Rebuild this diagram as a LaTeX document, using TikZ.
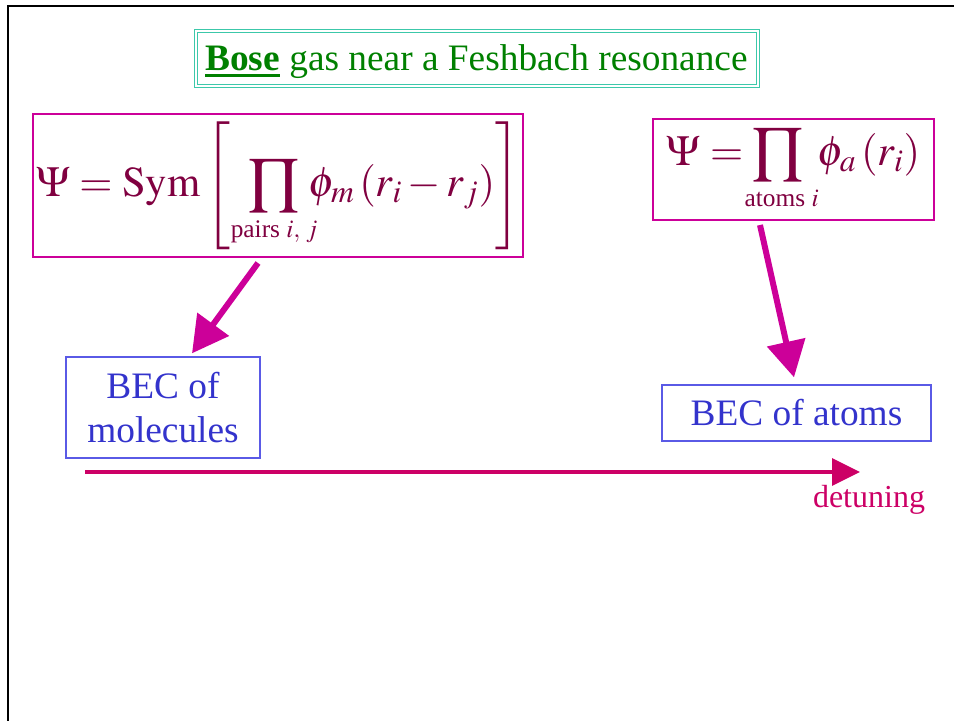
\documentclass[tikz,border=0pt]{standalone}
\usepackage{mathptmx}
\usepackage{mathtools}
\usepackage{fontspec}
\setmainfont{Liberation Serif}
\usetikzlibrary{arrows.meta,calc}

\definecolor{ttlgreen}{RGB}{0,128,0}
\definecolor{ttlteal}{RGB}{60,200,170}
\definecolor{pkline}{RGB}{204,0,153}
\definecolor{formred}{RGB}{128,0,64}
\definecolor{becline}{RGB}{90,90,230}
\definecolor{bectext}{RGB}{51,51,204}
\definecolor{detred}{RGB}{204,0,102}

\newcommand\boldul[1]{\setbox0=\hbox{#1}\rlap{\rule[-5pt]{\wd0}{2pt}}\box0\relax}
\newcommand\limtext[1]{\mbox{\fontsize{19}{21}\selectfont #1}}

\begin{document}
\begin{tikzpicture}[
  x=0.75pt, y=-0.75pt,
  rim/.style={line width=1.9pt, black},
  ttlbox/.style={draw=ttlteal, double=white, double distance=1.5pt, line width=0.75pt,
    text=ttlgreen, font=\fontsize{28}{32}\selectfont, inner sep=0pt,
    text height=19.5pt, text depth=1pt},
  formbox/.style={draw=pkline, line width=1.5pt, text=formred,
    font=\fontsize{32}{38}\selectfont, inner sep=0pt},
  becbox/.style={draw=becline, line width=1pt, text=bectext,
    font=\fontsize{28}{33}\selectfont, align=center, inner sep=0pt},
  detlbl/.style={text=detred, font=\fontsize{24}{28}\selectfont, inner sep=0pt},
  pkarr/.style={draw=pkline, line width=4.5pt, -{Triangle[length=27pt,width=28.5pt]}},
  detarr/.style={draw=detred, line width=3pt, -{Triangle[length=21pt,width=20pt]}},
]

\def\px{0.75pt}   % one pixel of the slide

\useasboundingbox (0,0) rectangle (954,721);

% Slide frame
\draw[rim] (8,721) -- (8,6) -- (954,6);

% ── Title ──
\node[ttlbox, minimum width=562*\px, minimum height=55*\px] (ttl) at (476.5,58)
  {\boldul{\textbf{Bose}} gas near a Feshbach resonance};

% ── Wave functions ──
\node[formbox, minimum width=490*\px, minimum height=143*\px] (fleft) at (278,185.5)
  {$\displaystyle \Psi = \mathrm{Sym}\left[\;\;\prod_{\mathclap{\limtext{pairs $i,\,j$}}}\,
    \phi_m\left(r_i - r_j\right)\right]$};
\node[formbox, minimum width=281*\px, minimum height=101*\px] (fright) at (793.5,169.5)
  {$\displaystyle \Psi = \prod_{\mathclap{\;\limtext{atoms $i$}}}\;\phi_a\left(r_i\right)$};

% ── Condensates ──
\node[becbox, minimum width=194*\px, minimum height=101*\px] (bmol) at (163,407.5)
  {BEC of\\molecules};
\node[becbox, minimum width=269*\px, minimum height=56*\px] (batm) at (796.5,413)
  {BEC of atoms};

% ── Arrows ──
\draw[pkarr] ($(fleft.south)+(-20,5)$) -- ($(bmol.north)+(29,-3)$);
\draw[pkarr] ($(fright.south)+(-33.5,4)$) -- ($(batm.north)+(-2.5,-7)$);

% Detuning axis
\coordinate (dl) at (85,472);
\coordinate (dr) at (860,472);
\draw[detarr] (dl) -- (dr);
\node[detlbl] (det) at (869,500) {detuning};

\end{tikzpicture}
\end{document}
